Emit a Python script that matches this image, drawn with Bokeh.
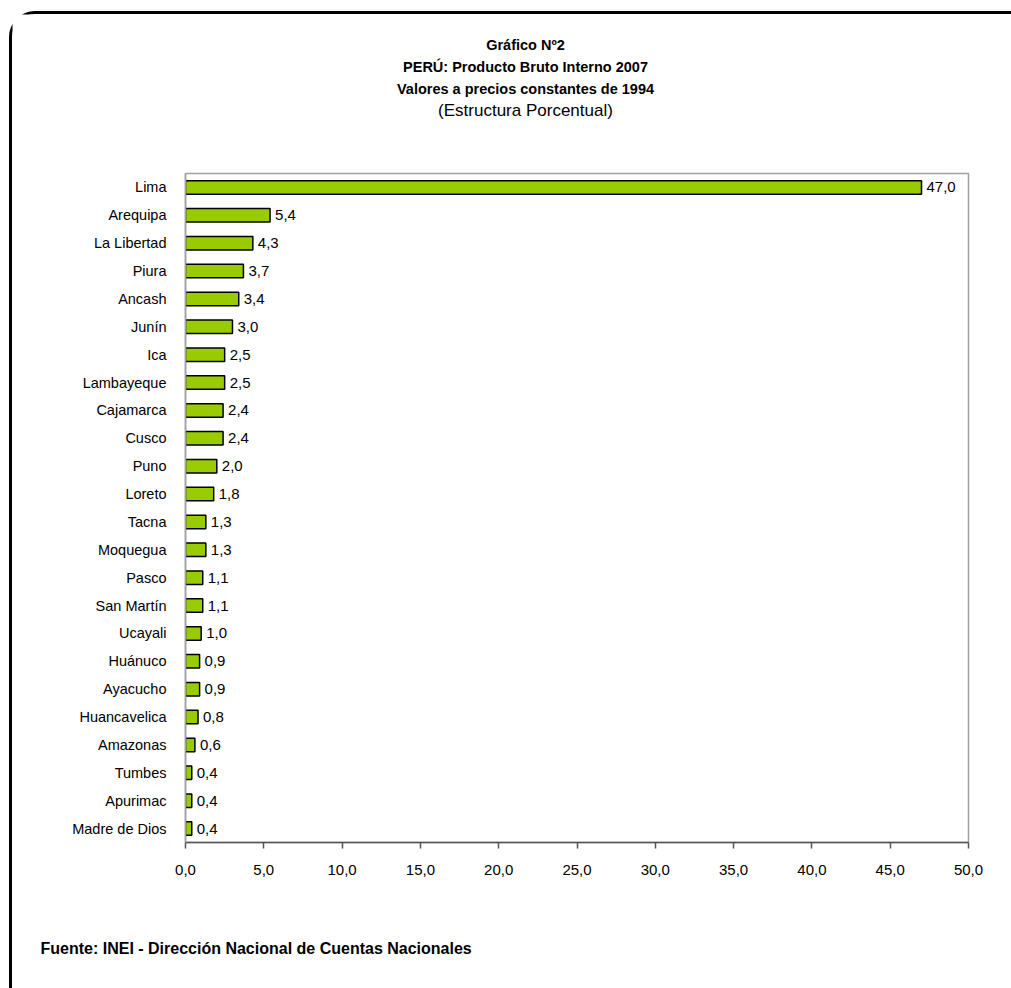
from bokeh.plotting import figure
from bokeh.layouts import column
from bokeh.models import FactorRange, Range1d, FixedTicker, ColumnDataSource
from bokeh.core.properties import value
from bokeh.embed import file_html
from bokeh.resources import INLINE

regions = ["Lima", "Arequipa", "La Libertad", "Piura", "Ancash", "Junín", "Ica",
           "Lambayeque", "Cajamarca", "Cusco", "Puno", "Loreto", "Tacna", "Moquegua",
           "Pasco", "San Martín", "Ucayali", "Huánuco", "Ayacucho", "Huancavelica",
           "Amazonas", "Tumbes", "Apurimac", "Madre de Dios"]
values = [47.0, 5.4, 4.3, 3.7, 3.4, 3.0, 2.5, 2.5, 2.4, 2.4, 2.0, 1.8, 1.3, 1.3,
          1.1, 1.1, 1.0, 0.9, 0.9, 0.8, 0.6, 0.4, 0.4, 0.4]
x_ticks = [0, 5, 10, 15, 20, 25, 30, 35, 40, 45, 50]
x_tick_labels = ["0,0", "5,0", "10,0", "15,0", "20,0", "25,0", "30,0", "35,0",
                 "40,0", "45,0", "50,0"]
title_lines = ["Gráfico Nº2", "PERÚ: Producto Bruto Interno 2007",
               "Valores a precios constantes de 1994"]
subtitle = "(Estructura Porcentual)"
source_text = "Fuente: INEI - Dirección Nacional de Cuentas Nacionales"

FONT = "Liberation Sans"
W = 999


def text_panel(height):
    f = figure(width=W, height=height, output_backend="svg", toolbar_location=None,
               x_range=Range1d(0, W), y_range=Range1d(height, 0),
               min_border=0, outline_line_color=None, frame_align=False)
    f.axis.visible = False
    f.grid.visible = False
    return f


# --- header with the titles ---
head = text_panel(140)
head.text(x=[513, 513, 513], y=[30, 52, 74], text=title_lines,
          text_align="center", text_baseline="middle",
          text_font=value(FONT), text_font_style="bold",
          text_font_size="14.5px", text_color="black")
head.text(x=[513], y=[96], text=[subtitle],
          text_align="center", text_baseline="middle",
          text_font=value(FONT), text_font_size="17px", text_color="black")

# --- main bar chart ---
src = ColumnDataSource(dict(
    region=regions,
    val=values,
    lab=[("%.1f" % v).replace(".", ",") for v in values],
))

p = figure(width=W, height=746, output_backend="svg", toolbar_location=None,
           y_range=FactorRange(factors=list(reversed(regions))),
           x_range=Range1d(0, 50), frame_align=False,
           min_border_left=173, min_border_right=43, min_border_top=19,
           min_border_bottom=58)

p.hbar(y="region", right="val", left=0, height=0.48, source=src,
       fill_color="#99CC00", line_color="black", line_width=1.5)
p.text(x="val", y="region", text="lab", source=src, x_offset=5,
       text_baseline="middle", text_align="left", text_font_size="15px",
       text_font=value(FONT), text_color="black")

p.grid.visible = False
p.outline_line_color = "#A0A0A0"
p.outline_line_width = 1.5

xa = p.xaxis[0]
xa.ticker = FixedTicker(ticks=x_ticks)
xa.major_label_overrides = {t: l for t, l in zip(x_ticks, x_tick_labels)}
xa.major_tick_in = 0
xa.major_tick_out = 6
xa.minor_tick_line_color = None
xa.axis_line_color = "#555555"
xa.axis_line_width = 1.5
xa.major_tick_line_color = "#555555"
xa.major_tick_line_width = 1.5
xa.major_label_text_font_size = "15px"
xa.major_label_text_font = FONT
xa.major_label_text_color = "black"
xa.major_label_standoff = 16

ya = p.yaxis[0]
ya.major_tick_line_color = None
ya.minor_tick_line_color = None
ya.axis_line_color = "#A0A0A0"
ya.axis_line_width = 1.5
ya.major_label_text_font_size = "14.5px"
ya.major_label_text_font = FONT
ya.major_label_text_color = "black"
ya.major_label_standoff = 13

# --- footer with the source ---
foot = text_panel(88)
foot.text(x=[28], y=[48], text=[source_text], text_align="left",
          text_baseline="middle", text_font=value(FONT),
          text_font_style="bold", text_font_size="16px", text_color="black")

layout = column(head, p, foot, spacing=0)
layout.styles = {"border-left": "3px solid black", "border-top": "3px solid black",
                 "border-top-left-radius": "26px", "margin-top": "11px",
                 "margin-left": "9px"}

open("out.html", "w").write(file_html(layout, INLINE))
